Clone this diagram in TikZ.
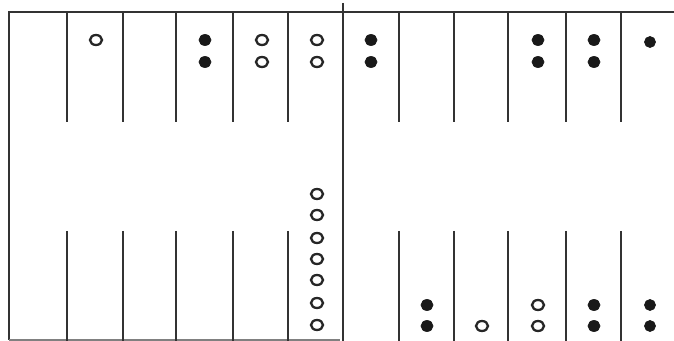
\documentclass[tikz,border=0pt]{standalone}
\usepackage{tikz}

\tikzset{
  board/.style={line width=1.1pt, black!80},
  blackman/.style={fill=black!90, draw=black!90, line width=0.4pt},
  whiteman/.style={fill=white, draw=black!85, line width=1.3pt}
}

\begin{document}
\begin{tikzpicture}[x=0.02cm, y=-0.02cm]
  \useasboundingbox (0,0) rectangle (674,341);

  % Frame
  \draw[board] (674,12) -- (9,12) -- (9,340);
  \draw[board, line width=0.6pt, black!50] (9,340) -- (340,340);
  \draw[board] (343,3) -- (343,341); % Bar

  % Points, top and bottom
  \foreach \x in {67,123,176,233,288,399,454,508,566,621} {
    \draw[board] (\x,12) -- (\x,122);
    \draw[board] (\x,231) -- (\x,341);
  }

  % Top men
  \draw[whiteman] (96,40) ellipse (6 and 5);
  \foreach \y in {40,62} {
    \draw[blackman] (205,\y) ellipse (6 and 5.5);
    \draw[whiteman] (262,\y) ellipse (6 and 5);
    \draw[whiteman] (317,\y) ellipse (6 and 5);
    \draw[blackman] (371,\y) ellipse (6 and 5.5);
    \draw[blackman] (538,\y) ellipse (6 and 5.5);
    \draw[blackman] (594,\y) ellipse (6 and 5.5);
  }
  \draw[blackman] (650,42) ellipse (5.5 and 5.5);

  % Bottom men
  \foreach \y in {194,215,238,259,280,303,325}
    \draw[whiteman] (317,\y) ellipse (6 and 5);
  \draw[whiteman] (482,326) ellipse (6 and 5);
  \foreach \y in {305,326} {
    \draw[blackman] (427,\y) ellipse (6 and 5.5);
    \draw[whiteman] (538,\y) ellipse (6 and 5);
    \draw[blackman] (594,\y) ellipse (6 and 5.5);
    \draw[blackman] (650,\y) ellipse (5.5 and 5.5);
  }
\end{tikzpicture}
\end{document}
